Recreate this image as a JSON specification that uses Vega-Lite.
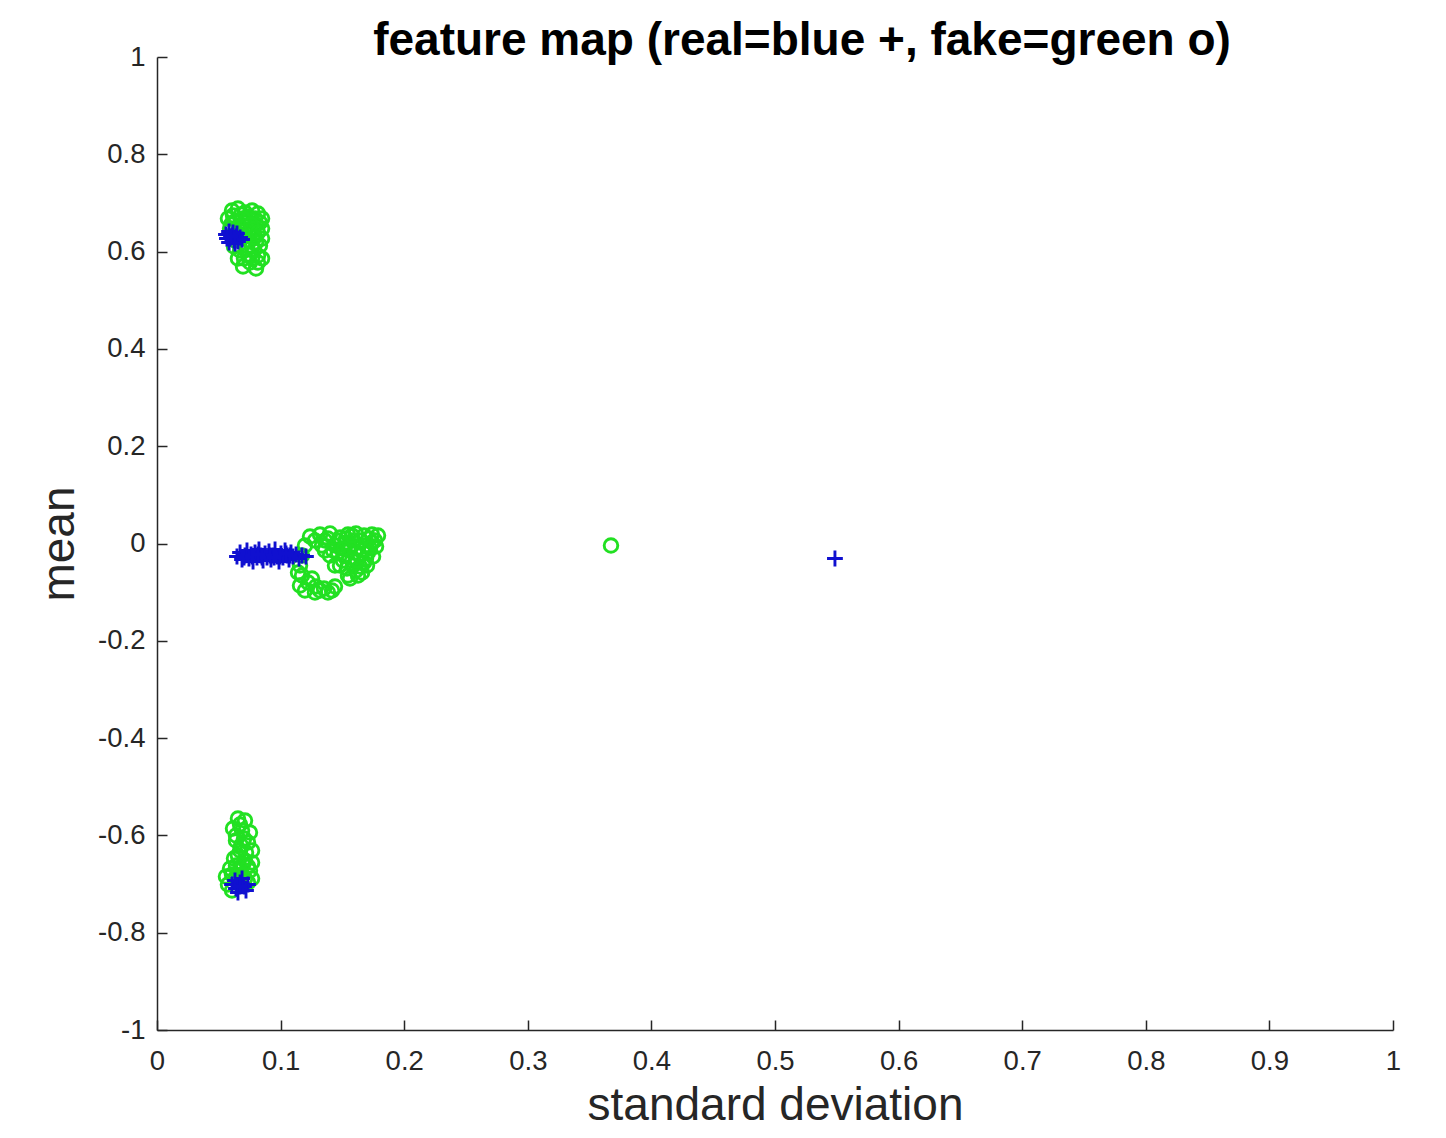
{
  "$schema": "https://vega.github.io/schema/vega-lite/v6.json",
  "width": 1236,
  "height": 973,
  "autosize": {"type": "none"},
  "padding": {"left": 157, "top": 57, "right": 53, "bottom": 108},
  "background": "white",
  "config": {"view": {"stroke": null}},
  "title": {
    "text": "feature map (real=blue +, fake=green o)",
    "font": "Liberation Sans",
    "fontSize": 46,
    "fontWeight": "bold",
    "color": "#000000",
    "anchor": "middle",
    "dx": 27,
    "dy": 58,
    "baseline": "alphabetic",
    "offset": 0
  },
  "data": {
    "values": [
      {"type": "fake", "std": 0.0607, "mean": 0.6845},
      {"type": "fake", "std": 0.0655, "mean": 0.6886},
      {"type": "fake", "std": 0.0712, "mean": 0.6804},
      {"type": "fake", "std": 0.0769, "mean": 0.6845},
      {"type": "fake", "std": 0.0817, "mean": 0.6783},
      {"type": "fake", "std": 0.0850, "mean": 0.6680},
      {"type": "fake", "std": 0.0574, "mean": 0.6680},
      {"type": "fake", "std": 0.0639, "mean": 0.6639},
      {"type": "fake", "std": 0.0704, "mean": 0.6598},
      {"type": "fake", "std": 0.0752, "mean": 0.6680},
      {"type": "fake", "std": 0.0801, "mean": 0.6557},
      {"type": "fake", "std": 0.0850, "mean": 0.6475},
      {"type": "fake", "std": 0.0591, "mean": 0.6475},
      {"type": "fake", "std": 0.0672, "mean": 0.6434},
      {"type": "fake", "std": 0.0736, "mean": 0.6393},
      {"type": "fake", "std": 0.0793, "mean": 0.6310},
      {"type": "fake", "std": 0.0850, "mean": 0.6269},
      {"type": "fake", "std": 0.0631, "mean": 0.6228},
      {"type": "fake", "std": 0.0712, "mean": 0.6187},
      {"type": "fake", "std": 0.0769, "mean": 0.6105},
      {"type": "fake", "std": 0.0833, "mean": 0.6125},
      {"type": "fake", "std": 0.0672, "mean": 0.6023},
      {"type": "fake", "std": 0.0736, "mean": 0.5940},
      {"type": "fake", "std": 0.0817, "mean": 0.5920},
      {"type": "fake", "std": 0.0850, "mean": 0.5858},
      {"type": "fake", "std": 0.0696, "mean": 0.5694},
      {"type": "fake", "std": 0.0801, "mean": 0.5653},
      {"type": "fake", "std": 0.0752, "mean": 0.5776},
      {"type": "fake", "std": 0.0655, "mean": 0.5858},
      {"type": "fake", "std": 0.0623, "mean": 0.6105},
      {"type": "fake", "std": 0.0615, "mean": 0.6742},
      {"type": "fake", "std": 0.0680, "mean": 0.6763},
      {"type": "fake", "std": 0.0736, "mean": 0.6721},
      {"type": "fake", "std": 0.0793, "mean": 0.6680},
      {"type": "fake", "std": 0.0833, "mean": 0.6598},
      {"type": "fake", "std": 0.0599, "mean": 0.6557},
      {"type": "fake", "std": 0.0663, "mean": 0.6516},
      {"type": "fake", "std": 0.0720, "mean": 0.6516},
      {"type": "fake", "std": 0.0777, "mean": 0.6475},
      {"type": "fake", "std": 0.0817, "mean": 0.6393},
      {"type": "fake", "std": 0.0696, "mean": 0.6310},
      {"type": "fake", "std": 0.0752, "mean": 0.6228},
      {"type": "fake", "std": 0.0801, "mean": 0.6187},
      {"type": "fake", "std": 0.0728, "mean": 0.6064},
      {"type": "fake", "std": 0.0785, "mean": 0.6023},
      {"type": "fake", "std": 0.0704, "mean": 0.5858},
      {"type": "fake", "std": 0.0769, "mean": 0.5858},
      {"type": "fake", "std": 0.0817, "mean": 0.5776},
      {"type": "fake", "std": 0.0696, "mean": 0.6680},
      {"type": "fake", "std": 0.0761, "mean": 0.6557},
      {"type": "fake", "std": 0.0655, "mean": 0.6372},
      {"type": "fake", "std": 0.0785, "mean": 0.6290},
      {"type": "fake", "std": 0.0720, "mean": 0.6310},

      {"type": "fake", "std": 0.1238, "mean": 0.0144},
      {"type": "fake", "std": 0.1319, "mean": 0.0185},
      {"type": "fake", "std": 0.1400, "mean": 0.0206},
      {"type": "fake", "std": 0.1481, "mean": 0.0123},
      {"type": "fake", "std": 0.1545, "mean": 0.0185},
      {"type": "fake", "std": 0.1610, "mean": 0.0206},
      {"type": "fake", "std": 0.1675, "mean": 0.0164},
      {"type": "fake", "std": 0.1739, "mean": 0.0185},
      {"type": "fake", "std": 0.1788, "mean": 0.0164},
      {"type": "fake", "std": 0.1359, "mean": 0.0062},
      {"type": "fake", "std": 0.1440, "mean": -0.0041},
      {"type": "fake", "std": 0.1521, "mean": 0.0000},
      {"type": "fake", "std": 0.1561, "mean": -0.0041},
      {"type": "fake", "std": 0.1626, "mean": -0.0103},
      {"type": "fake", "std": 0.1691, "mean": -0.0041},
      {"type": "fake", "std": 0.1739, "mean": 0.0021},
      {"type": "fake", "std": 0.1642, "mean": -0.0247},
      {"type": "fake", "std": 0.1578, "mean": -0.0349},
      {"type": "fake", "std": 0.1675, "mean": -0.0391},
      {"type": "fake", "std": 0.1610, "mean": -0.0555},
      {"type": "fake", "std": 0.1545, "mean": -0.0658},
      {"type": "fake", "std": 0.1707, "mean": -0.0185},
      {"type": "fake", "std": 0.1521, "mean": -0.0247},
      {"type": "fake", "std": 0.1481, "mean": -0.0452},
      {"type": "fake", "std": 0.1197, "mean": -0.0041},
      {"type": "fake", "std": 0.1173, "mean": -0.0247},
      {"type": "fake", "std": 0.1157, "mean": -0.0452},
      {"type": "fake", "std": 0.1173, "mean": -0.0658},
      {"type": "fake", "std": 0.1222, "mean": -0.0802},
      {"type": "fake", "std": 0.1286, "mean": -0.0884},
      {"type": "fake", "std": 0.1351, "mean": -0.0925},
      {"type": "fake", "std": 0.1416, "mean": -0.0966},
      {"type": "fake", "std": 0.1254, "mean": -0.0719},
      {"type": "fake", "std": 0.1400, "mean": -0.0247},
      {"type": "fake", "std": 0.1440, "mean": -0.0452},
      {"type": "fake", "std": 0.1359, "mean": -0.0144},
      {"type": "fake", "std": 0.1278, "mean": 0.0062},
      {"type": "fake", "std": 0.1335, "mean": -0.0041},
      {"type": "fake", "std": 0.1383, "mean": 0.0103},
      {"type": "fake", "std": 0.1424, "mean": -0.0144},
      {"type": "fake", "std": 0.1464, "mean": 0.0062},
      {"type": "fake", "std": 0.1497, "mean": -0.0103},
      {"type": "fake", "std": 0.1529, "mean": 0.0103},
      {"type": "fake", "std": 0.1586, "mean": 0.0062},
      {"type": "fake", "std": 0.1602, "mean": -0.0185},
      {"type": "fake", "std": 0.1650, "mean": 0.0062},
      {"type": "fake", "std": 0.1667, "mean": -0.0144},
      {"type": "fake", "std": 0.1715, "mean": 0.0103},
      {"type": "fake", "std": 0.1764, "mean": 0.0062},
      {"type": "fake", "std": 0.1723, "mean": -0.0103},
      {"type": "fake", "std": 0.1772, "mean": -0.0062},
      {"type": "fake", "std": 0.1748, "mean": -0.0267},
      {"type": "fake", "std": 0.1699, "mean": -0.0452},
      {"type": "fake", "std": 0.1642, "mean": -0.0473},
      {"type": "fake", "std": 0.1586, "mean": -0.0452},
      {"type": "fake", "std": 0.1537, "mean": -0.0514},
      {"type": "fake", "std": 0.1505, "mean": -0.0349},
      {"type": "fake", "std": 0.1561, "mean": -0.0719},
      {"type": "fake", "std": 0.1626, "mean": -0.0658},
      {"type": "fake", "std": 0.1659, "mean": -0.0596},
      {"type": "fake", "std": 0.1464, "mean": -0.0185},
      {"type": "fake", "std": 0.1553, "mean": -0.0144},
      {"type": "fake", "std": 0.1618, "mean": -0.0349},
      {"type": "fake", "std": 0.1691, "mean": -0.0308},
      {"type": "fake", "std": 0.1513, "mean": -0.0103},
      {"type": "fake", "std": 0.1578, "mean": 0.0164},
      {"type": "fake", "std": 0.1197, "mean": -0.0966},
      {"type": "fake", "std": 0.1278, "mean": -0.1007},
      {"type": "fake", "std": 0.1319, "mean": -0.0966},
      {"type": "fake", "std": 0.1383, "mean": -0.1007},
      {"type": "fake", "std": 0.1157, "mean": -0.0863},
      {"type": "fake", "std": 0.1141, "mean": -0.0596},
      {"type": "fake", "std": 0.1440, "mean": -0.0884},

      {"type": "fake", "std": 0.0655, "mean": -0.5653},
      {"type": "fake", "std": 0.0712, "mean": -0.5694},
      {"type": "fake", "std": 0.0615, "mean": -0.5858},
      {"type": "fake", "std": 0.0688, "mean": -0.5899},
      {"type": "fake", "std": 0.0752, "mean": -0.5940},
      {"type": "fake", "std": 0.0639, "mean": -0.6105},
      {"type": "fake", "std": 0.0736, "mean": -0.6146},
      {"type": "fake", "std": 0.0672, "mean": -0.6310},
      {"type": "fake", "std": 0.0769, "mean": -0.6310},
      {"type": "fake", "std": 0.0623, "mean": -0.6475},
      {"type": "fake", "std": 0.0712, "mean": -0.6516},
      {"type": "fake", "std": 0.0769, "mean": -0.6557},
      {"type": "fake", "std": 0.0591, "mean": -0.6680},
      {"type": "fake", "std": 0.0672, "mean": -0.6721},
      {"type": "fake", "std": 0.0752, "mean": -0.6721},
      {"type": "fake", "std": 0.0558, "mean": -0.6845},
      {"type": "fake", "std": 0.0631, "mean": -0.6886},
      {"type": "fake", "std": 0.0712, "mean": -0.6886},
      {"type": "fake", "std": 0.0574, "mean": -0.7009},
      {"type": "fake", "std": 0.0672, "mean": -0.7009},
      {"type": "fake", "std": 0.0769, "mean": -0.6886},
      {"type": "fake", "std": 0.0607, "mean": -0.7132},
      {"type": "fake", "std": 0.0672, "mean": -0.5776},
      {"type": "fake", "std": 0.0639, "mean": -0.6002},
      {"type": "fake", "std": 0.0704, "mean": -0.6064},
      {"type": "fake", "std": 0.0680, "mean": -0.6208},
      {"type": "fake", "std": 0.0720, "mean": -0.6351},
      {"type": "fake", "std": 0.0655, "mean": -0.6413},
      {"type": "fake", "std": 0.0696, "mean": -0.6598},
      {"type": "fake", "std": 0.0639, "mean": -0.6619},
      {"type": "fake", "std": 0.0736, "mean": -0.6639},
      {"type": "fake", "std": 0.0607, "mean": -0.6804},
      {"type": "fake", "std": 0.0688, "mean": -0.6804},
      {"type": "fake", "std": 0.0655, "mean": -0.6927},
      {"type": "fake", "std": 0.0736, "mean": -0.6968},

      {"type": "fake", "std": 0.3673, "mean": -0.0041},

      {"type": "real", "std": 0.0558, "mean": 0.6351},
      {"type": "real", "std": 0.0583, "mean": 0.6413},
      {"type": "real", "std": 0.0591, "mean": 0.6269},
      {"type": "real", "std": 0.0607, "mean": 0.6331},
      {"type": "real", "std": 0.0623, "mean": 0.6228},
      {"type": "real", "std": 0.0639, "mean": 0.6310},
      {"type": "real", "std": 0.0655, "mean": 0.6208},
      {"type": "real", "std": 0.0672, "mean": 0.6290},
      {"type": "real", "std": 0.0583, "mean": 0.6187},
      {"type": "real", "std": 0.0615, "mean": 0.6393},
      {"type": "real", "std": 0.0647, "mean": 0.6372},
      {"type": "real", "std": 0.0688, "mean": 0.6249},
      {"type": "real", "std": 0.0566, "mean": 0.6269},
      {"type": "real", "std": 0.0631, "mean": 0.6166},
      {"type": "real", "std": 0.0599, "mean": 0.6310},

      {"type": "real", "std": 0.0647, "mean": -0.0267},
      {"type": "real", "std": 0.0672, "mean": -0.0185},
      {"type": "real", "std": 0.0688, "mean": -0.0329},
      {"type": "real", "std": 0.0712, "mean": -0.0247},
      {"type": "real", "std": 0.0728, "mean": -0.0144},
      {"type": "real", "std": 0.0744, "mean": -0.0308},
      {"type": "real", "std": 0.0761, "mean": -0.0226},
      {"type": "real", "std": 0.0777, "mean": -0.0370},
      {"type": "real", "std": 0.0793, "mean": -0.0185},
      {"type": "real", "std": 0.0809, "mean": -0.0288},
      {"type": "real", "std": 0.0825, "mean": -0.0123},
      {"type": "real", "std": 0.0841, "mean": -0.0247},
      {"type": "real", "std": 0.0858, "mean": -0.0349},
      {"type": "real", "std": 0.0874, "mean": -0.0206},
      {"type": "real", "std": 0.0890, "mean": -0.0288},
      {"type": "real", "std": 0.0906, "mean": -0.0164},
      {"type": "real", "std": 0.0922, "mean": -0.0329},
      {"type": "real", "std": 0.0939, "mean": -0.0247},
      {"type": "real", "std": 0.0955, "mean": -0.0123},
      {"type": "real", "std": 0.0971, "mean": -0.0267},
      {"type": "real", "std": 0.0987, "mean": -0.0370},
      {"type": "real", "std": 0.1003, "mean": -0.0206},
      {"type": "real", "std": 0.1019, "mean": -0.0288},
      {"type": "real", "std": 0.1036, "mean": -0.0144},
      {"type": "real", "std": 0.1052, "mean": -0.0247},
      {"type": "real", "std": 0.1068, "mean": -0.0329},
      {"type": "real", "std": 0.1084, "mean": -0.0185},
      {"type": "real", "std": 0.1100, "mean": -0.0267},
      {"type": "real", "std": 0.1125, "mean": -0.0226},
      {"type": "real", "std": 0.1149, "mean": -0.0308},
      {"type": "real", "std": 0.1173, "mean": -0.0247},
      {"type": "real", "std": 0.0704, "mean": -0.0288},
      {"type": "real", "std": 0.0769, "mean": -0.0267},
      {"type": "real", "std": 0.0850, "mean": -0.0288},
      {"type": "real", "std": 0.0914, "mean": -0.0247},
      {"type": "real", "std": 0.0995, "mean": -0.0267},
      {"type": "real", "std": 0.1076, "mean": -0.0247},
      {"type": "real", "std": 0.0817, "mean": -0.0226},
      {"type": "real", "std": 0.0947, "mean": -0.0288},
      {"type": "real", "std": 0.1044, "mean": -0.0206},
      {"type": "real", "std": 0.1205, "mean": -0.0267},

      {"type": "real", "std": 0.0607, "mean": -0.7009},
      {"type": "real", "std": 0.0639, "mean": -0.7091},
      {"type": "real", "std": 0.0672, "mean": -0.6968},
      {"type": "real", "std": 0.0704, "mean": -0.7050},
      {"type": "real", "std": 0.0736, "mean": -0.7009},
      {"type": "real", "std": 0.0655, "mean": -0.7174},
      {"type": "real", "std": 0.0688, "mean": -0.6886},
      {"type": "real", "std": 0.0631, "mean": -0.6927},
      {"type": "real", "std": 0.0720, "mean": -0.7132},
      {"type": "real", "std": 0.0672, "mean": -0.7050},

      {"type": "real", "std": 0.5485, "mean": -0.0308}
    ]
  },
  "mark": {"type": "point", "filled": false, "opacity": 1, "clip": false},
  "encoding": {
    "x": {
      "field": "std",
      "type": "quantitative",
      "scale": {"domain": [0, 1], "nice": false, "zero": false},
      "axis": {
        "title": "standard deviation",
        "values": [0, 0.1, 0.2, 0.3, 0.4, 0.5, 0.6, 0.7, 0.8, 0.9, 1],
        "labelExpr": "replace(datum.label, '−', '-')",
        "format": "~g",
        "grid": false,
        "domainColor": "#262626",
        "domainWidth": 1.5,
        "tickColor": "#262626",
        "tickWidth": 1.5,
        "tickSize": -10,
        "labelPadding": 27,
        "labelFont": "Liberation Sans",
        "labelFontSize": 27.5,
        "labelColor": "#262626",
        "labelFlush": false,
        "labelOverlap": false,
        "titleFont": "Liberation Sans",
        "titleFontSize": 46,
        "titleFontWeight": "normal",
        "titleColor": "#262626",
        "titlePadding": 9
      }
    },
    "y": {
      "field": "mean",
      "type": "quantitative",
      "scale": {"domain": [-1, 1], "nice": false, "zero": false},
      "axis": {
        "title": "mean",
        "values": [-1, -0.8, -0.6, -0.4, -0.2, 0, 0.2, 0.4, 0.6, 0.8, 1],
        "labelExpr": "replace(datum.label, '−', '-')",
        "format": "~g",
        "grid": false,
        "domainColor": "#262626",
        "domainWidth": 1.5,
        "tickColor": "#262626",
        "tickWidth": 1.5,
        "tickSize": -10,
        "labelPadding": 22,
        "labelFont": "Liberation Sans",
        "labelFontSize": 27.5,
        "labelColor": "#262626",
        "labelFlush": false,
        "labelOverlap": false,
        "titleFont": "Liberation Sans",
        "titleFontSize": 46,
        "titleFontWeight": "normal",
        "titleColor": "#262626",
        "titlePadding": 14
      }
    },
    "shape": {
      "field": "type",
      "type": "nominal",
      "scale": {"domain": ["fake", "real"], "range": ["circle", "M-1,0H1M0,-1V1"]},
      "legend": null
    },
    "color": {
      "field": "type",
      "type": "nominal",
      "scale": {"domain": ["fake", "real"], "range": ["#22e022", "#1010d0"]},
      "legend": null
    },
    "size": {
      "field": "type",
      "type": "nominal",
      "scale": {"domain": ["fake", "real"], "range": [185, 250]},
      "legend": null
    },
    "strokeWidth": {"value": 2.9}
  }
}
